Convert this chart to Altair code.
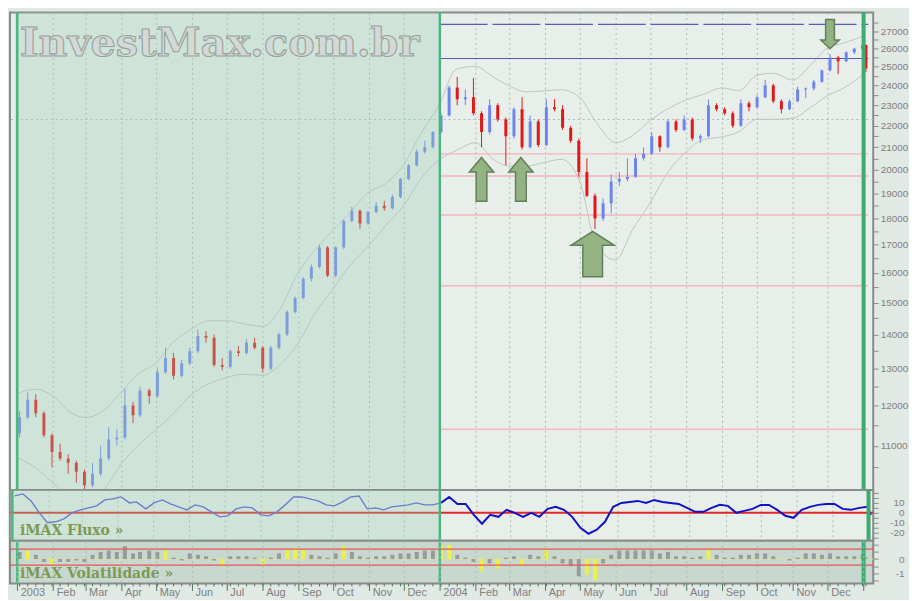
import altair as alt
import pandas as pd

# ---------------- data ----------------
week_dates = [
    "2003-01-03", "2003-01-10", "2003-01-17", "2003-01-24", "2003-01-31", "2003-02-07", "2003-02-14", "2003-02-21", "2003-02-28", "2003-03-07",
    "2003-03-14", "2003-03-21", "2003-03-28", "2003-04-04", "2003-04-11", "2003-04-17", "2003-04-25", "2003-05-02", "2003-05-09", "2003-05-16",
    "2003-05-23", "2003-05-30", "2003-06-06", "2003-06-13", "2003-06-20", "2003-06-27", "2003-07-04", "2003-07-11", "2003-07-18", "2003-07-25",
    "2003-08-01", "2003-08-08", "2003-08-15", "2003-08-22", "2003-08-29", "2003-09-05", "2003-09-12", "2003-09-19", "2003-09-26", "2003-10-03",
    "2003-10-10", "2003-10-17", "2003-10-24", "2003-10-31", "2003-11-07", "2003-11-14", "2003-11-21", "2003-11-28", "2003-12-05", "2003-12-12",
    "2003-12-19", "2003-12-26", "2004-01-02", "2004-01-09", "2004-01-16", "2004-01-23", "2004-01-30", "2004-02-06", "2004-02-13", "2004-02-20",
    "2004-02-27", "2004-03-05", "2004-03-12", "2004-03-19", "2004-03-26", "2004-04-02", "2004-04-09", "2004-04-16", "2004-04-23", "2004-04-30",
    "2004-05-07", "2004-05-14", "2004-05-21", "2004-05-28", "2004-06-04", "2004-06-11", "2004-06-18", "2004-06-25", "2004-07-02", "2004-07-09",
    "2004-07-16", "2004-07-23", "2004-07-30", "2004-08-06", "2004-08-13", "2004-08-20", "2004-08-27", "2004-09-03", "2004-09-10", "2004-09-17",
    "2004-09-24", "2004-10-01", "2004-10-08", "2004-10-15", "2004-10-22", "2004-10-29", "2004-11-05", "2004-11-12", "2004-11-19", "2004-11-26",
    "2004-12-03", "2004-12-10", "2004-12-17", "2004-12-24", "2004-12-31", "2005-01-03",
]
opens = [11300, 11700, 12150, 11800, 11250, 10850, 10700, 10600, 10400, 10100,
         10350, 10700, 11150, 11200, 12000, 11750, 12400, 12250, 12900, 13300,
         12800, 13150, 13500, 13950, 13900, 13100, 13050, 13500, 13450, 13750,
         13600, 13000, 13600, 14000, 14700, 15150, 15800, 16200, 16900, 15900,
         16900, 17900, 18300, 17800, 18250, 18500, 18400, 18850, 19600, 20200,
         20800, 21000, 21700, 22500, 23900, 23300, 23400, 22600, 21700, 23000,
         22300, 21500, 22800, 21000, 22200, 21100, 22900, 22800, 21900, 21300,
         19900, 18900, 18000, 18600, 19500, 19600, 19700, 20500, 20700, 21500,
         21000, 22200, 21800, 22300, 21400, 21500, 23000, 22800, 22600, 22000,
         23100, 22900, 23400, 24000, 23200, 22800, 23200, 23800, 23850, 24200,
         24800, 25500, 25300, 25800, 26000, 26200]
highs = [11850, 12350, 12300, 11850, 11300, 11050, 10800, 10650, 10450, 10600,
         11000, 11450, 11400, 12450, 12100, 12500, 12450, 13000, 13600, 13450,
         13250, 13600, 14150, 14100, 14000, 13300, 13550, 13650, 13850, 13900,
         13650, 13650, 14050, 14750, 15200, 15850, 16300, 17000, 16950, 16950,
         17950, 18450, 18350, 18300, 18650, 18700, 18950, 19650, 20250, 20900,
         21300, 21750, 22600, 24000, 24450, 23800, 24400, 22700, 23300, 23100,
         22400, 22900, 23400, 22500, 22300, 23300, 23300, 23000, 22000, 21400,
         20500, 19000, 18800, 19800, 19900, 20500, 20700, 21000, 21700, 21550,
         22300, 22300, 22500, 22400, 21600, 23300, 23100, 22900, 22700, 23300,
         23200, 23500, 24300, 24100, 23300, 23300, 23950, 23900, 24300, 24850,
         25700, 25600, 25850, 26050, 26300, 26250]
lows = [11200, 11650, 11700, 11200, 10500, 10650, 10350, 10150, 10000, 10050,
        10300, 10650, 11000, 11150, 11550, 11700, 12050, 12200, 12850, 12700,
        12750, 13100, 13450, 13750, 13050, 12950, 13000, 13350, 13400, 13550,
        12900, 12950, 13550, 13950, 14650, 15100, 15700, 16150, 15850, 15850,
        16850, 17850, 17600, 17750, 18200, 18300, 18350, 18800, 19550, 20150,
        20700, 20950, 21650, 22450, 23000, 23000, 22500, 21000, 21600, 22200,
        20200, 21400, 20900, 20950, 21000, 21050, 22700, 21800, 21200, 19700,
        18850, 17600, 17900, 18200, 19300, 19500, 19650, 20400, 20650, 20800,
        20950, 21700, 21750, 21300, 21200, 21450, 22700, 22500, 21900, 21950,
        22700, 22850, 23350, 23100, 22600, 22750, 23150, 23350, 23750, 24150,
        24750, 24600, 25250, 25700, 25900, 24700]
closes = [11700, 12150, 11800, 11250, 10850, 10700, 10600, 10400, 10100, 10350,
          10700, 11150, 11200, 12000, 11750, 12400, 12250, 12900, 13300, 12800,
          13150, 13500, 13950, 13900, 13100, 13050, 13500, 13450, 13750, 13600,
          13000, 13600, 14000, 14700, 15150, 15800, 16200, 16900, 15900, 16900,
          17900, 18300, 17800, 18250, 18500, 18400, 18850, 19600, 20200, 20800,
          21000, 21700, 22500, 23900, 23300, 23400, 22600, 21700, 23000, 22300,
          21500, 22800, 21000, 22200, 21100, 22900, 22800, 21900, 21300, 19900,
          18900, 18000, 18600, 19500, 19600, 19700, 20500, 20700, 21500, 21000,
          22200, 21800, 22300, 21400, 21500, 23000, 22800, 22600, 22000, 23100,
          22900, 23400, 24000, 23200, 22800, 23200, 23800, 23850, 24200, 24800,
          25500, 25300, 25800, 26000, 26200, 24900]
fluxo = [17, 19, 12, 0, -10, -9, -6, 0, 3, 5,
         7, 13, 14, 16, 10, 11, 4, 10, 13, 9,
         6, 3, 8, 6, 1, -4, -3, 4, 6, 5,
         -2, -3, 1, 8, 16, 16, 14, 12, 8, 7,
         11, 16, 17, 4, 5, 3, 6, 7, 8, 10,
         8, 8, 10, 16, 9, 9, -2, -11, -2, -4,
         3, 0, -4, 0, -4, 4, 6, 3, -4, -15,
         -21, -17, -9, 6, 10, 11, 12, 10, 13, 11,
         10, 9, 5, 1, 1, 5, 8, 7, 0, 2,
         4, 8, 8, 3, -3, -5, 3, 6, 8, 9,
         9, 4, 3, 5, 6, -2]
volat = [0.5, 0.6, 0.3, -0.2, -0.4, -0.2, -0.2, -0.1, -0.2, 0.3,
         0.5, 0.6, 0.5, 0.9, 0.4, 0.5, 0.6, 0.5, 0.6, 0.1,
         -0.1, 0.4, 0.3, 0.2, -0.1, -0.45, 0.2, 0.2, 0.2, 0.1,
         -0.4, 0.1, 0.4, 0.7, 0.8, 0.7, 0.3, 0.2, 0.1, 0.4,
         0.9, 0.5, 0.2, 0.1, 0.2, 0.2, 0.3, 0.4, 0.4, 0.5,
         0.6, 0.6, 1.0, 1.0, 0.3, 0.1, -0.2, -0.85, -0.3, -0.65,
         0.1, 0.2, -0.4, 0.3, 0.2, 0.65, 0.2, -0.3, -0.5, -1.2,
         -1.1, -1.5, -0.3, 0.3, 0.6, 0.6, 0.6, 0.6, 0.6, 0.4,
         0.5, 0.2, 0.2, 0.1, 0.2, 0.75, 0.3, 0.1, 0.1, 0.3,
         0.3, 0.4, 0.4, 0.2, 0.0, -0.1, 0.1, 0.4, 0.4, 0.3,
         0.4, 0.2, 0.2, 0.2, 0.3, 0.1]
volat_hot = [0, 1, 0, 0, 1, 0, 0, 0, 0, 0,
             0, 0, 0, 0, 0, 0, 0, 0, 1, 0,
             0, 0, 0, 0, 0, 1, 0, 0, 0, 0,
             1, 0, 0, 1, 1, 1, 0, 0, 0, 0,
             1, 0, 0, 0, 0, 0, 0, 0, 0, 0,
             0, 0, 1, 1, 0, 0, 0, 1, 0, 1,
             0, 0, 1, 0, 0, 1, 0, 0, 0, 0,
             1, 1, 0, 0, 0, 0, 0, 0, 0, 0,
             0, 0, 0, 0, 0, 1, 0, 0, 0, 0,
             0, 0, 0, 0, 0, 0, 0, 0, 0, 0,
             0, 0, 0, 0, 0, 0]

band_dates = [
    "2003-01-01", "2003-01-15", "2003-02-01", "2003-02-15", "2003-03-01", "2003-03-15", "2003-04-01", "2003-04-15", "2003-05-01", "2003-05-15",
    "2003-06-01", "2003-06-15", "2003-07-01", "2003-07-15", "2003-08-01", "2003-08-15", "2003-09-01", "2003-09-15", "2003-10-01", "2003-10-15",
    "2003-11-01", "2003-11-15", "2003-12-01", "2003-12-15", "2004-01-01", "2004-01-15", "2004-02-01", "2004-02-15", "2004-03-01", "2004-03-15",
    "2004-04-01", "2004-04-15", "2004-05-01", "2004-05-15", "2004-06-01", "2004-06-15", "2004-07-01", "2004-07-15", "2004-08-01", "2004-08-15",
    "2004-09-01", "2004-09-15", "2004-10-01", "2004-10-15", "2004-11-01", "2004-11-15", "2004-12-01", "2004-12-15", "2005-01-01",
]
band_upper = [12300, 12430, 12250, 11840, 11690, 11840, 12360, 12840, 13170, 13740,
              14180, 14420, 14420, 14330, 14240, 14730, 16030, 16800, 17560, 18210,
              19070, 19400, 20240, 21570, 23080, 24860, 25020, 24490, 23980, 23680,
              23730, 23780, 23380, 22170, 21210, 21520, 22270, 22790, 23280, 23530,
              23880, 23730, 24550, 24650, 24290, 25020, 26040, 26320, 26720]
band_lower = [10720, 10520, 10150, 9890, 9870, 9970, 10590, 11000, 11400, 11770,
              12300, 12570, 12750, 12840, 12810, 13080, 13760, 14640, 15470, 16240,
              16980, 17710, 18520, 19570, 20460, 20850, 21210, 20500, 20160, 20160,
              20330, 20460, 19480, 17010, 16450, 17530, 18640, 19820, 20810, 21340,
              21480, 21710, 22310, 22310, 22360, 22840, 23480, 23880, 24600]

pink_levels = [20700, 19730, 18130, 15560, 11400]
blue_levels = [25450]
dashed_levels = [27400]
grid_levels = [22300]
levels_from = "2004-01-01"
levels_to = "2005-01-05"
shade_from = "2002-12-30"
shade_to = "2004-01-01"
year_lines = ["2003-01-01", "2004-01-01"]
end_line = ["2005-01-01"]

arrow_small_dates = ["2004-02-06", "2004-03-11"]
arrow_small_values = [19590, 19590]
arrow_big_dates = ["2004-05-12"]
arrow_big_values = [16660]
arrow_down_dates = ["2004-12-03"]
arrow_down_values = [26830]

price_ticks = list(range(10500, 28000, 500))
fluxo_ticks = [-25, -20, -15, -10, -5, 0, 5, 10, 15, 20]
volat_ticks = [-1.5, -1, -0.5, 0, 0.5, 1]
volat_limits = [0.7, -0.43]

watermark = "InvestMax.com.br"
fluxo_title = "iMAX Fluxo »"
volat_title = "iMAX Volatilidade »"

# ---------------- layout ----------------
W = 868
H_MAIN = 480
H_FLUX = 51
H_VOL = 43

RED = "#e01818"
BLUE = "#6d84ee"
GREEN_LINE = "#4cb57f"
GRID = "#a8bcb0"
TXT_GREEN = "#7d9a55"

df = pd.DataFrame({"date": week_dates, "open": opens, "high": highs, "low": lows,
                   "close": closes, "fluxo": fluxo, "vol": volat, "hot": volat_hot})
band_df = pd.DataFrame({"date": band_dates, "upper": band_upper, "lower": band_lower})

xscale = alt.Scale(domain=[alt.DateTime(year=2002, month=12, date=30),
                           alt.DateTime(year=2005, month=1, date=5)])
grid_axis = alt.Axis(title=None, labels=False, ticks=False, domain=False, grid=True,
                     gridColor=GRID, gridDash=[2, 3],
                     tickCount={"interval": "month", "step": 1})
bottom_axis = alt.Axis(title=None, orient="bottom", grid=True, gridColor=GRID, gridDash=[2, 3],
                       tickCount={"interval": "month", "step": 1},
                       labelExpr="year(datum.value) >= 2005 ? '' : (month(datum.value) == 0 ? timeFormat(datum.value, '%Y') : timeFormat(datum.value, '%b'))",
                       labelAlign="left", labelOffset=3, labelPadding=-4, labelFlush=False,
                       labelOverlap=False, tickSize=7, tickColor="#4d7a62", labelColor="#808080",
                       labelFontSize=11, domain=False, zindex=1)


def X(f):
    return alt.X(f, type="temporal", scale=xscale, axis=grid_axis)


def XB(f):
    return alt.X(f, type="temporal", scale=xscale, axis=bottom_axis)


main_axis = alt.Axis(orient="right", title=None, values=price_ticks,
                     labelExpr="datum.value % 1000 == 0 ? '' + datum.value : ''",
                     tickSize=5, tickColor="#8a8a8a", labelColor="#808080", labelFontSize=10,
                     labelPadding=2, labelOverlap=False, domain=False, grid=False)
yscale = alt.Scale(type="log", domain=[9995, 28110], nice=False)


def Y(f):
    return alt.Y(f, type="quantitative", scale=yscale, axis=main_axis)


candle_color = alt.condition("datum.close < datum.open", alt.value(RED), alt.value(BLUE))

bands_up = alt.Chart(band_df).mark_line(color="#bcc5c0", strokeWidth=1, clip=True, interpolate="monotone").encode(
    x=X("date"), y=Y("upper"))
bands_lo = alt.Chart(band_df).mark_line(color="#bcc5c0", strokeWidth=1, clip=True, interpolate="monotone").encode(
    x=X("date"), y=Y("lower"))
hgrid = alt.Chart(pd.DataFrame({"v": grid_levels})).mark_rule(color=GRID, strokeDash=[2, 3]).encode(y=Y("v"))

lv = lambda vals: pd.DataFrame({"v": vals, "s": [levels_from] * len(vals), "e": [levels_to] * len(vals)})
pink = alt.Chart(lv(pink_levels)).mark_rule(color="#f3b5be", strokeWidth=1.5).encode(
    x=X("s"), x2=alt.X2("e"), y=Y("v"))
blue = alt.Chart(lv(blue_levels)).mark_rule(color="#5a5ab8", strokeWidth=1.2).encode(
    x=X("s"), x2=alt.X2("e"), y=Y("v"))
dashed = alt.Chart(lv(dashed_levels)).mark_rule(color="#5a5ab8", strokeWidth=1.2, strokeDash=[48, 5]).encode(
    x=X("s"), x2=alt.X2("e"), y=Y("v"))

wick = alt.Chart(df).mark_rule(strokeWidth=1, clip=True).encode(
    x=X("date"), y=Y("low"), y2=alt.Y2("high"), color=candle_color)
body = alt.Chart(df).mark_bar(size=3, clip=True).encode(
    x=X("date"), y=Y("open"), y2=alt.Y2("close"), color=candle_color)

shade_df = pd.DataFrame({"s": [shade_from], "e": [shade_to]})
shade_main = alt.Chart(shade_df).mark_rect(color="#9fcfb6", opacity=0.33).encode(
    x=X("s"), x2=alt.X2("e"), y=alt.value(0), y2=alt.value(H_MAIN))
shade_flux = alt.Chart(shade_df).mark_rect(color="#9fcfb6", opacity=0.33).encode(
    x=X("s"), x2=alt.X2("e"), y=alt.value(0), y2=alt.value(H_FLUX))


def green_lines(xf):
    a = alt.Chart(pd.DataFrame({"d": year_lines})).mark_rule(color=GREEN_LINE, strokeWidth=2.5).encode(x=xf("d"))
    b = alt.Chart(pd.DataFrame({"d": end_line})).mark_rule(color="#3daa6f", strokeWidth=4).encode(x=xf("d"))
    return [a, b]


SMALL_UP = "M0,-1 L0.556,-0.33 L0.244,-0.33 L0.244,1 L-0.244,1 L-0.244,-0.33 L-0.556,-0.33 Z"
BIG_UP = "M0,-1 L0.957,-0.39 L0.435,-0.39 L0.435,1 L-0.435,1 L-0.435,-0.39 L-0.957,-0.39 Z"
DOWN = "M0,1 L0.63,0.4 L0.3,0.4 L0.3,-1 L-0.3,-1 L-0.3,0.4 L-0.63,0.4 Z"
arrow_style = dict(filled=True, fill="#93b383", stroke="#62805a", strokeWidth=1.5, opacity=1)
arr1 = alt.Chart(pd.DataFrame({"d": arrow_small_dates, "v": arrow_small_values})).mark_point(
    shape=SMALL_UP, size=1936, **arrow_style).encode(x=X("d"), y=Y("v"))
arr2 = alt.Chart(pd.DataFrame({"d": arrow_big_dates, "v": arrow_big_values})).mark_point(
    shape=BIG_UP, size=2070, **arrow_style).encode(x=X("d"), y=Y("v"))
arr3 = alt.Chart(pd.DataFrame({"d": arrow_down_dates, "v": arrow_down_values})).mark_point(
    shape=DOWN, size=870, **arrow_style).encode(x=X("d"), y=Y("v"))

wm_df = pd.DataFrame({"t": [watermark]})
wm = alt.Chart(wm_df).mark_text(
    color="#d3d9d6", stroke="#9aa19d", strokeWidth=1.1, font="DejaVu Serif", fontSize=40,
    fontWeight="bold", align="left", baseline="alphabetic"
).encode(text="t:N", x=alt.value(10), y=alt.value(44))

main = alt.layer(
    hgrid, bands_up, bands_lo, pink, blue, dashed, wick, body, shade_main,
    *green_lines(X), arr1, arr2, arr3, wm,
).properties(width=W, height=H_MAIN)

# ---------------- fluxo panel ----------------
flux_axis = alt.Axis(orient="right", title=None, values=fluxo_ticks,
                     labelExpr="indexof([10, 0, -10, -20], datum.value) >= 0 ? '' + datum.value : ''",
                     tickSize=5, tickColor="#8a8a8a", labelColor="#808080", labelFontSize=10,
                     labelAlign="right", labelPadding=26, labelOverlap=False, labelBaseline="middle",
                     domain=False, grid=False)
flux_scale = alt.Scale(domain=[-28, 23], nice=False)


def FY(f):
    return alt.Y(f, type="quantitative", scale=flux_scale, axis=flux_axis)


zero_flux = alt.Chart(pd.DataFrame({"v": [0]})).mark_rule(color="#e32626", strokeWidth=2).encode(y=FY("v"))
line03 = alt.Chart(df.iloc[:53]).mark_line(color="#5454d6", strokeWidth=1.4).encode(x=X("date"), y=FY("fluxo"))
line04 = alt.Chart(df.iloc[52:]).mark_line(color="#1212c2", strokeWidth=2).encode(x=X("date"), y=FY("fluxo"))
flux_txt = alt.Chart(pd.DataFrame({"t": [fluxo_title]})).mark_text(
    font="DejaVu Serif", fontSize=14, fontWeight="bold", color=TXT_GREEN, align="left", baseline="alphabetic"
).encode(text="t:N", x=alt.value(10), y=alt.value(45))

flux = alt.layer(zero_flux, line03, line04, shade_flux, *green_lines(X), flux_txt).properties(
    width=W, height=H_FLUX)

# ---------------- volatilidade panel ----------------
vol_axis = alt.Axis(orient="right", title=None, values=volat_ticks,
                    labelExpr="datum.value == 0 || datum.value == -1 ? '' + datum.value : ''",
                    tickSize=5, tickColor="#8a8a8a", labelColor="#808080", labelFontSize=10,
                    labelAlign="right", labelPadding=26, labelOverlap=False, labelBaseline="middle",
                    domain=False, grid=False)
vol_scale = alt.Scale(domain=[-1.71, 1.29], nice=False)


def VY(f):
    return alt.Y(f, type="quantitative", scale=vol_scale, axis=vol_axis)


vol_zero = alt.Chart(pd.DataFrame({"v": [0]})).mark_rule(color="#e8e87a", strokeDash=[2, 2]).encode(y=VY("v"))
vol_bars = alt.Chart(df).mark_bar(size=4).encode(
    x=XB("date"), y=VY("vol"), y2=alt.datum(0),
    color=alt.Color("hot:N", scale=alt.Scale(domain=[0, 1], range=["#9a9a9a", "#eeee4c"]), legend=None))
vol_lim = alt.Chart(pd.DataFrame({"v": volat_limits})).mark_rule(color="#e35656", strokeWidth=1.2).encode(y=VY("v"))
week_ticks = alt.Chart(df).mark_rule(color="#4d7a62").encode(
    x=XB("date"), y=alt.value(H_VOL), y2=alt.value(H_VOL + 3))
vol_txt = alt.Chart(pd.DataFrame({"t": [volat_title]})).mark_text(
    font="DejaVu Serif", fontSize=14, fontWeight="bold", color=TXT_GREEN, align="left", baseline="alphabetic"
).encode(text="t:N", x=alt.value(10), y=alt.value(38))

vol = alt.layer(vol_zero, vol_bars, vol_lim, week_ticks, *green_lines(XB), vol_txt).properties(
    width=W, height=H_VOL, view=alt.ViewBackground(fill="#c8d8cf"))

chart = alt.vconcat(main, flux, vol, spacing=0, bounds="flush").properties(
    padding=0, background="#e1e9e4"
).configure_view(
    fill="#e8efeb", stroke="#8a8a8a", strokeWidth=2
).configure_axis(
    labelFont="Liberation Sans"
)

chart.save("out.html", embed_options={"renderer": "svg", "actions": False})
